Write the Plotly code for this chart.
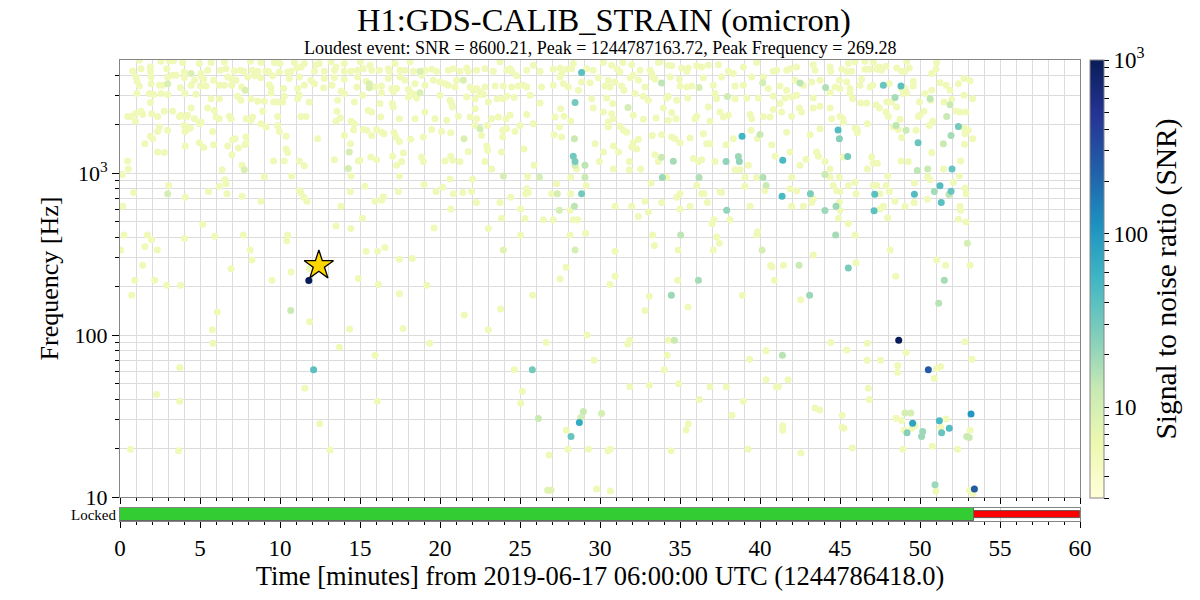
import numpy as np
import plotly.graph_objects as go

# ---------------- metadata ----------------
channel = "H1:GDS-CALIB_STRAIN"
pipeline = "omicron"
gps_epoch = 1244786418.0
epoch_label = "2019-06-17 06:00:00 UTC"
loudest_snr = 8600.21
loudest_gps = 1244787163.72
loudest_freq = 269.28

# state segments (minutes from epoch)
locked_known = [0.0, 60.0]
locked_active = [0.0, 53.4]

# typical SNR of the faint (pale) triggers, read from the colour
snr_quiet = 5.5

# ---------------- faint triggers: time [min], frequency [Hz] ----------------
time_a = [1.21, 2.56, 3.08, 3.35, 3.92, 4.96, 5.69, 6.52, 8.15, 8.81, 9.65, 10.0, 10.9, 11.52, 12.25, 12.46, 13.19, 14.02, 15.02,
          0.79, 1.31, 1.9, 1.9, 2.92, 3.25, 4.02, 5.06, 5.48, 6.27, 6.63, 7.15, 7.52, 7.73, 8.25, 8.6, 9.13, 9.27, 9.96, 10.48, 10.69, 11.06, 11.31, 12.15, 12.77, 13.5, 13.4, 14.02, 14.44, 14.85,
          1.0, 1.06, 1.94, 2.98, 3.5, 4.02, 4.65, 5.1, 5.23, 5.85, 6.73, 6.94, 7.25, 7.98, 8.44, 8.81, 9.54, 10.58, 11.21, 11.94, 12.77, 13.4, 14.02, 14.85,
          1.21, 1.94, 2.46, 2.67, 3.77, 4.44, 5.02, 5.38, 6.21, 6.52, 6.98, 7.6, 9.33, 9.44, 10.23, 11.1, 11.52, 12.15, 12.73, 13.25, 13.81, 14.8,
          1.06, 1.83, 2.1, 2.56, 2.98, 4.06, 4.75, 5.69, 6.21, 7.35, 7.56, 8.19, 8.6, 9.02, 9.44, 9.6, 9.85, 10.17, 10.27, 11.1, 11.21, 11.83, 13.6, 14.02, 14.65, 15.17,
          0.48, 0.65, 0.96, 0.96, 1.31, 1.42, 1.9, 1.98, 2.35, 2.77, 3.29, 3.71, 3.81, 4.13, 4.23, 4.65, 4.44, 4.96, 5.06, 5.48, 5.9, 6.0, 6.21, 6.83, 6.94, 7.88, 8.19, 8.29, 8.92, 8.81, 9.13, 9.85, 9.85, 11.31, 11.63, 13.56, 13.77, 13.5, 14.44, 14.65,
          2.46, 2.35, 2.98, 4.02, 4.23, 4.4, 4.06, 1.9, 2.04, 5.79, 7.04, 7.19, 7.88, 7.81, 10.38, 9.96, 12.35, 14.02, 14.6,
          1.56, 2.35, 2.77, 4.08, 4.96, 5.23, 5.85, 6.73, 7.4, 7.0, 7.88, 10.38, 10.48, 9.6, 10.27, 11.21, 11.52, 13.4, 14.4, 14.9, 0.48, 0.52, 7.63, 6.38,
          0.15, 9.02, 10.73, 14.44, 3.04, 6.56, 6.63, 6.21, 0.85, 4.08, 5.54, 6.69, 7.63, 8.81, 11.21, 11.31, 11.48, 11.69, 13.81, 14.4, 0.17]
freq_a = [4990, 4920, 4940, 4940, 4830, 4750, 4830, 4870, 4920, 4830, 4830, 4750, 4830, 4750, 4680, 4750, 4870, 4750, 4870,
          4280, 4420, 4530, 4260, 4420, 4030, 4220, 4120, 4320, 4320, 4420, 4280, 4320, 4260, 4320, 4260, 4260, 4260, 4220, 4220, 4260, 4470, 4530, 4260, 4260, 4530, 4320, 4260, 4260, 4320,
          3930, 3690, 3930, 3930, 4030, 3880, 3750, 3930, 3800, 3750, 3930, 3840, 3750, 3930, 3990, 3880, 3990, 3840, 3930, 3750, 3840, 3880, 3800, 3930,
          3460, 3570, 3490, 3490, 3370, 3490, 3460, 3450, 3490, 3490, 3490, 3410, 3520, 3370, 3330, 3330, 3490, 3570, 3370, 3490, 3220, 3410,
          3100, 3100, 3060, 3100, 3060, 3100, 3070, 2880, 2880, 2990, 2820, 2880, 2780, 2780, 3130, 2750, 2750, 2750, 2990, 2880, 3030, 2750, 2820, 3100, 2750, 3030,
          2240, 2240, 2330, 2090, 2410, 2300, 2730, 2330, 2240, 2410, 2410, 2240, 2280, 2220, 2280, 2170, 2530, 2020, 2070, 2530, 2440, 2220, 2170, 2250, 2170, 2170, 2120, 2220, 2410, 2020, 1930, 2240, 1970, 2240, 2240, 2410, 2190, 2090, 2090, 2020,
          1930, 1810, 1840, 1970, 1880, 1900, 1810, 1690, 1630, 1810, 1610, 1630, 1670, 1500, 1690, 1810, 1630, 1710, 1850,
          1520, 1350, 1340, 1470, 1540, 1440, 1500, 1470, 1430, 1300, 1520, 1410, 1340, 1190, 1190, 1190, 1110, 1210, 1520, 1190, 1190, 1060, 1120, 1050,
          980, 950, 960, 960, 840, 910, 860, 830, 760, 710, 770, 745, 720, 670, 780, 760, 710, 670, 625, 770, 625]

time_b = [15.21, 15.63, 15.73, 16.21, 16.77, 16.83, 17.19, 17.5, 17.81, 18.13, 18.33, 19.06, 19.48, 19.79, 20.52, 20.83, 21.25, 21.67, 21.77, 22.29, 22.81, 23.33, 23.75, 24.17, 24.38, 24.48, 24.79, 25.42, 25.83, 26.25, 27.08, 27.5, 27.6, 27.92, 28.23, 28.33, 29.17, 29.58,
          15.38, 15.94, 16.35, 16.77, 16.98, 17.29, 17.5, 17.81, 18.02, 18.13, 18.44, 18.85, 19.06, 19.58, 20.0, 20.31, 20.52, 20.94, 21.04, 21.88, 22.08, 22.29, 22.5, 22.81, 23.44, 23.96, 24.48, 24.9, 25.21, 25.42, 26.35, 27.08, 27.5, 27.71, 28.02, 28.65, 28.85, 29.38, 29.9,
          16.35, 17.08, 18.02, 18.38, 18.54, 20.0, 20.63, 21.67, 22.19, 22.5, 22.71, 23.02, 23.58, 23.96, 24.17, 24.63, 25.63, 26.25, 29.48,
          15.52, 15.73, 16.25, 16.29, 17.02, 17.08, 17.46, 18.44, 19.06, 19.69, 20.42, 20.73, 20.79, 21.15, 21.88, 22.19, 22.29, 23.23, 23.65, 24.13, 24.38, 25.42, 27.19, 27.54, 27.75, 28.17, 29.58,
          15.21, 15.42, 15.73, 16.04, 16.35, 16.5, 17.13, 17.25, 17.46, 18.17, 18.96, 19.48, 20.1, 20.67, 22.19, 22.6, 22.96, 23.92, 23.92, 24.17, 24.69, 25.0, 25.83, 27.13, 27.46, 27.6, 29.69,
          15.0, 15.67, 16.04, 17.04, 17.29, 17.6, 17.71, 18.85, 18.96, 20.31, 20.67, 20.79, 21.25, 21.77, 22.81, 22.92, 22.98, 23.23, 23.85, 25.25, 25.88, 28.54, 29.96,
          15.31, 15.94, 16.35, 16.46, 17.4, 17.46, 19.0, 19.75, 20.17, 20.63, 20.83, 21.42, 21.98, 22.04, 22.27, 23.75, 24.42, 25.04, 25.35, 25.42, 25.52, 26.98, 27.29, 28.17, 28.17, 28.13, 29.13, 20.67, 25.48]
freq_b = [4420, 4640, 4320, 4320, 4420, 4260, 4750, 4320, 4320, 4870, 4260, 4320, 4380, 4260, 4320, 4420, 4260, 4470, 4260, 4320, 4420, 4260, 4870, 4320, 4420, 4260, 3990, 4320, 4640, 4260, 4380, 4470, 4120, 4380, 4420, 4750, 4420, 4320,
          3690, 3410, 3460, 3840, 3330, 3330, 3930, 3750, 3300, 3180, 3570, 4030, 3490, 3750, 3660, 3570, 3490, 3410, 3750, 3410, 3250, 3330, 3180, 3410, 3460, 3460, 3410, 3460, 3490, 3410, 3410, 3490, 3930, 3570, 3410, 3250, 3660, 3620, 3880,
          3140, 3180, 2950, 3060, 2910, 3030, 2820, 2950, 2880, 3060, 3060, 2750, 2880, 2880, 2990, 2930, 3030, 2710, 2880,
          2440, 2390, 2690, 2220, 2690, 2560, 2170, 2170, 2390, 2170, 2120, 2690, 2560, 2250, 2220, 2500, 2170, 2170, 2220, 2170, 2280, 2300, 2220, 2500, 2250, 2100, 2530,
          1860, 1840, 1710, 1860, 1790, 1750, 1780, 1670, 1570, 1620, 1670, 1860, 1810, 1780, 1970, 1710, 1970, 1840, 1670, 1880, 1810, 1970, 2020, 1730, 1930, 1670, 1520,
          1200, 1260, 1210, 1270, 1120, 1180, 1330, 1260, 1180, 1190, 1270, 1200, 1180, 1360, 1180, 1470, 1380, 1060, 1350, 1410, 1120, 1060, 1180,
          830, 670, 680, 715, 770, 960, 850, 770, 820, 920, 745, 760, 770, 920, 660, 660, 710, 600, 745, 800, 760, 745, 860, 745, 945, 590, 840, 600, 955]

time_c = [30.21, 30.73, 31.42, 31.98, 33.75, 34.27, 33.13, 33.23, 33.65, 34.48, 35.1, 35.42, 35.52, 36.04, 36.35, 36.77, 37.4, 38.02, 38.33, 38.96, 39.79, 40.83, 41.04, 41.67, 41.88, 42.29, 43.33, 43.44, 44.38, 44.42, 45.1, 31.08, 31.25, 32.5, 32.08,
          30.52, 30.94, 30.31, 30.63, 31.35, 31.5, 31.88, 32.4, 32.81, 33.29, 33.44, 34.38, 34.96, 35.0, 35.42, 35.73, 36.46, 37.08, 37.6, 38.44, 38.96, 39.48, 40.21, 40.52, 41.25, 41.67, 42.19, 42.71, 43.23, 43.75, 44.69, 44.96, 45.42,
          30.42, 30.79, 32.19, 32.71, 33.02, 34.17, 34.27, 34.79, 35.48, 37.19, 37.29, 38.44, 39.17, 39.9, 40.83, 41.56, 41.98, 42.29, 43.33, 44.38,
          30.21, 30.73, 30.83, 30.52, 32.08, 32.71, 33.5, 33.96, 34.48, 34.27, 34.75, 36.04, 35.94, 36.77, 36.88, 37.5, 37.71, 38.02, 39.38, 39.48, 40.21, 40.63, 40.83, 41.25, 41.35, 41.98, 42.46, 42.6, 43.33, 43.75, 44.38, 44.48, 30.52, 31.25,
          31.46, 31.67, 32.08, 32.4, 33.27, 33.85, 34.48, 34.69, 35.0, 35.63, 36.46, 36.67, 36.88, 37.88, 38.33, 39.44, 39.83, 40.73, 41.67, 43.13, 43.75,
          30.21, 30.83, 31.15, 31.98, 32.29, 33.44, 33.65, 35.83, 36.15, 36.35, 37.19, 39.27, 38.75, 38.44, 40.94, 41.88, 42.5, 42.88, 43.54, 43.65, 44.06, 44.38, 45.21, 30.83, 31.83, 32.54, 31.83,
          33.19, 34.17, 35.0, 34.79, 36.04, 36.35, 36.5, 36.71, 37.5, 37.6, 39.06, 39.06, 39.79, 40.31, 41.98, 41.88, 42.29, 43.23, 44.38, 44.96, 44.79, 44.58, 30.94, 31.98, 32.81, 33.85, 35.63, 35.0, 39.38, 41.98, 42.71, 43.33, 44.96, 33.02]
freq_c = [4830, 4640, 4830, 4680, 4870, 4640, 4320, 4120, 4830, 4600, 4470, 4260, 4470, 4600, 4530, 4640, 4680, 4260, 4120, 4530, 4830, 4260, 4320, 4320, 4420, 4530, 4680, 4320, 4530, 4260, 4380, 4380, 4220, 4320, 4030,
          3750, 3660, 3460, 3410, 3460, 3250, 3880, 3750, 3410, 3930, 3800, 3930, 3800, 3460, 3410, 3460, 3880, 3490, 3930, 3460, 3490, 3930, 3930, 3330, 3460, 3250, 3750, 3490, 3660, 3750, 3410, 3750, 3660,
          2910, 2690, 3100, 2990, 2820, 2910, 2990, 2820, 2910, 3100, 2880, 2880, 2910, 2910, 2990, 2910, 2950, 3030, 2910, 3140,
          2390, 2330, 2170, 2070, 2280, 2150, 2190, 2530, 2370, 2120, 2170, 2250, 2170, 2560, 2090, 2390, 2220, 2280, 2300, 2170, 2240, 2220, 2470, 2690, 2390, 2250, 2530, 2390, 2530, 2590, 2530, 2170, 1930, 1950,
          1840, 1790, 1540, 1620, 1710, 1730, 1670, 1630, 1540, 1650, 1750, 1520, 1520, 1500, 1630, 1840, 1640, 1500, 1790, 1730, 1880,
          1350, 1470, 1350, 1450, 1410, 1300, 1180, 1230, 1180, 1210, 1180, 1120, 1050, 1050, 1270, 1350, 1120, 1220, 1350, 1270, 1180, 1060, 1260, 1060, 1050, 1060, 1180,
          870, 940, 745, 710, 840, 745, 745, 660, 770, 760, 945, 830, 940, 780, 945, 800, 780, 660, 945, 945, 780, 840, 625, 625, 670, 660, 625, 600, 625, 625, 625, 690, 660, 575]

time_d = [45.52, 45.94, 46.56, 47.08, 49.17, 51.04, 45.42, 45.73, 46.56, 46.83, 47.29, 47.46, 47.6, 47.88, 48.54, 48.85, 49.06, 49.33, 50.73, 51.0,
          46.35, 46.25, 46.88, 47.04, 48.08, 48.85, 49.06, 49.58, 49.58, 50.31, 50.73, 51.25, 51.63, 51.88, 52.4, 52.75, 53.13,
          45.0, 45.63, 45.63, 45.79, 46.29, 46.67, 47.25, 47.46, 47.92, 48.23, 48.54, 48.96, 49.17, 49.96, 50.67, 51.5, 51.98, 52.75, 53.29,
          45.0, 45.17, 45.21, 47.88, 48.02, 48.75, 48.33, 49.9, 50.0, 50.25, 50.58, 50.79, 52.25, 52.5, 52.88, 46.71, 45.94, 46.08, 46.08,
          48.65, 48.85, 49.75, 52.75, 53.02, 52.81, 53.29, 52.78,
          50.73, 46.98, 47.08, 47.33, 46.71, 48.81, 49.27, 51.46, 52.54,
          47.98, 47.08, 47.29, 47.88, 45.94, 45.52, 45.0, 46.0, 47.5, 48.08, 49.65, 52.08, 52.46, 52.81, 52.88, 50.48, 50.63, 50.46, 48.44, 49.63, 49.06, 47.5, 47.71, 45.0, 52.5, 52.54]
freq_d = [4750, 4870, 4920, 4830, 4920, 4830, 4260, 4260, 4380, 4380, 4380, 4530, 4320, 4580, 4470, 4260, 4260, 4470, 4120, 4380,
          3800, 3490, 3410, 3490, 3570, 3330, 3330, 3690, 3460, 3100, 3250, 3620, 3490, 3250, 3570, 3840, 3720,
          3330, 3330, 3100, 2880, 2710, 2710, 2650, 2530, 2750, 2750, 2560, 3100, 3140, 2750, 2820, 2750, 2850, 3030, 2880,
          2240, 2170, 2070, 2390, 2240, 2150, 1930, 2240, 2280, 2410, 1970, 2090, 2420, 2390, 2390, 2020, 1900, 1860, 1780,
          1860, 1660, 1840, 1900, 1840, 1750, 1630, 1510,
          1340, 1260, 1150, 1150, 1060, 1190, 1180, 1060, 1190,
          960, 840, 840, 840, 880, 840, 770, 745, 745, 770, 870, 880, 960, 810, 745, 950, 910, 690, 670, 660, 625, 600, 625, 590, 625, 590]

time_low = [0.25, 0.04, 1.71, 1.98, 1.56, 2.33, 1.42, 0.92, 2.17, 2.92, 3.79, 0.73, 4.04, 5.17, 5.92, 6.94, 7.71, 8.13, 8.25, 9.5, 10.69, 10.42, 10.48, 11.83, 13.5, 14.42, 15.15, 15.38, 16.1, 16.56, 14.9, 16.15, 17.46, 17.46, 18.27, 19.17, 19.63, 23.02, 23.85, 25.04, 25.31, 25.79, 26.46, 27.08, 28.33, 28.6, 28.13, 27.88, 27.5, 29.1,
            6.08, 5.77, 5.81, 11.85, 14.35, 17.69, 19.35, 13.71, 15.94, 21.52, 23.79, 23.02, 26.63, 29.19, 29.63, 3.73, 24.65, 2.29, 3.73, 11.56, 16.08, 12.48, 25.15, 25.04, 27.9, 28.0, 29.27, 26.81, 0.65, 3.67, 13.13, 29.79,
            30.94, 30.94, 30.63, 33.08, 33.29, 33.4, 32.4, 34.88, 34.85, 37.0, 37.13, 37.29, 37.46, 37.08, 38.13, 38.9, 39.79, 39.85, 40.67, 40.75, 41.46, 40.9, 43.33, 42.54, 44.9, 45.52, 45.94, 46.0, 47.98, 48.13, 48.48, 52.4, 52.88, 51.04, 51.6, 53.13,
            32.81, 35.5, 31.73, 31.86, 34.27, 34.2, 34.02, 40.38, 39.35, 44.42, 45.42, 46.71, 46.69, 47.54, 49.13, 48.6, 48.6, 51.04, 51.29, 50.9, 52.81, 53.25, 40.38, 41.75, 41.02, 41.15, 34.92, 33.08, 31.86, 36.88, 37.9, 36.21, 38.96, 46.77, 46.83, 43.44, 43.73, 38.25, 45.13, 35.52, 35.38, 41.42, 41.42, 45.13, 45.25, 48.5, 48.85, 49.48, 49.69, 49.0, 51.63, 51.29, 53.13, 50.77, 48.94, 52.35, 45.77, 42.56, 39.25, 34.44, 30.5, 30.63, 30.65, 51.0, 53.1, 53.3]
freq_low = [415, 335, 415, 388, 353, 335, 270, 218, 218, 203, 203, 176, 395, 483, 408, 257, 415, 335, 291, 218, 245, 383, 415, 258, 472, 455, 526, 330, 330, 347, 224, 205, 180, 294, 297, 203, 458, 455, 526, 415, 524, 176, 516, 516, 516, 516, 415, 262, 222, 425,
            139, 108, 89, 121, 109, 110, 89, 84, 75, 133, 145, 108, 90, 100, 70, 63, 61, 43, 39, 47, 39, 28.3, 45, 38, 25.8, 19.7, 19.7, 18.2, 19.7, 19.3, 19.5, 11.2,
            330, 231, 205, 174, 415, 357, 540, 335, 218, 487, 516, 404, 369, 335, 516, 176, 415, 435, 270, 264, 270, 218, 312, 165, 526, 488, 415, 280, 530, 335, 231, 520, 500, 291, 270, 270,
            142, 149, 88, 93, 93, 75, 61, 80, 71, 90, 81, 89, 70, 70, 78, 65, 59, 62, 64, 54, 91, 71, 53, 53, 48, 48, 50, 49, 48, 48, 48, 40, 39, 47, 40, 35.5, 34.4, 32, 32, 28.3, 25.9, 27.5, 25.8, 27, 26.6, 30.7, 29.7, 26.6, 27.5, 25.8, 30.3, 27, 25.8, 20.6, 19.7, 19.7, 20.1, 18.7, 19.7, 19.3, 19.3, 19.7, 10.9, 10.9, 11.0, 10.5]

# ---------------- louder triggers: time [min], frequency [Hz], SNR ----------------
time_loud = [2.98, 7.83, 4.44, 2.98, 14.33, 14.27, 7.77, 15.58, 15.58, 18.75, 18.75, 21.46, 21.5, 22.5, 23.96, 26.21, 27.33, 27.46, 28.4, 28.85,
             28.44, 28.33, 28.44, 28.44, 29.06, 28.85, 29.06, 28.4, 28.44, 23.96, 11.8, 10.67, 12.1, 25.77, 26.15, 28.71, 28.19, 28.96, 28.8, 26.73,
             26.94, 30.1, 33.85, 36.19, 40.17, 42.5, 44.1, 37.96, 31.75, 40.0, 38.88, 44.88, 44.96, 33.85, 34.58, 37.88, 38.65, 38.71, 41.42, 45.48,
             33.9, 36.19, 40.19, 40.38, 41.38, 43.15, 37.92, 44.75, 44.06, 44.06, 47.71, 48.81, 48.44, 50.63, 51.88, 51.67, 48.5, 49.13, 49.88, 51.46,
             51.94, 52.4, 49.83, 50.48, 52.0, 47.17, 49.65, 50.9, 51.25, 51.94, 51.81, 51.33, 47.13, 35.04, 44.73, 40.13, 42.44, 45.52, 36.15, 51.52,
             52.96, 34.65, 41.4, 34.46, 43.1, 51.17, 48.67, 50.52, 53.4, 53.19, 49.54, 51.21, 51.83, 51.35, 49.19, 50.17, 50.1, 50.94, 49.06, 49.42,
             52.92, 53.08]
freq_loud = [3570, 3250, 4120, 745, 1350, 1070, 1050, 3570, 3370, 4260, 3140, 3750, 1630, 1880, 960, 945, 745, 590, 625, 4180,
             2730, 1270, 1180, 1120, 1120, 745, 945, 1630, 335, 335, 217, 142, 61, 61, 30.5, 28.8, 23.6, 33.7, 31, 11.0,
             11.0, 32.8, 3610, 3380, 3620, 3610, 3380, 2980, 2540, 1735, 1690, 1850, 1630, 1256, 1186, 1181, 1268, 1181, 1200, 1268,
             940, 940, 940, 839, 720, 745, 590, 625, 588, 981, 3490, 3460, 2930, 2880, 2650, 2240, 1970, 1840, 1540, 1520,
             1710, 1945, 1040, 1060, 1060, 741, 741, 770, 835, 774, 738, 658, 585, 415, 415, 335, 270, 260, 218, 218,
             369, 93, 75, 176, 176, 157, 93, 61, 11.2, 32.5, 28.5, 29.6, 26.6, 24.9, 24.9, 25.4, 23.6, 11.9, 33, 33,
             23.6, 23.3]
snr_loud = [9, 9, 9, 10, 10, 10, 9, 9, 9, 9, 9, 9, 9, 10, 10, 10, 10, 10, 14, 40,
            30, 30, 28, 10, 14, 30, 12, 12, 10, 8, 1000, 12, 40, 30, 12, 70, 35, 12, 10, 8,
            8, 10, 14, 10, 10, 14, 16, 11, 10, 12, 55, 45, 25, 12, 18, 22, 20, 22, 50, 30,
            20, 16, 16, 12, 50, 28, 22, 20, 20, 12, 35, 40, 18, 14, 12, 12, 14, 12, 35, 12,
            18, 30, 14, 12, 35, 40, 45, 18, 45, 35, 14, 40, 40, 14, 18, 10, 12, 28, 18, 18,
            10, 12, 15, 20, 20, 15, 1000, 250, 250, 100, 80, 50, 45, 35, 25, 20, 20, 20, 10, 10,
            12, 12]

# ---------------- axes / colour definitions ----------------
freq_range = [10, 5000]
time_range = [0, 60]
snr_range = [3, 1000]

YLGNBU = [[0.0, "#ffffd9"], [0.125, "#edf8b1"], [0.25, "#c7e9b4"], [0.375, "#7fcdbb"],
          [0.5, "#41b6c4"], [0.625, "#1d91c0"], [0.75, "#225ea8"], [0.875, "#253494"], [1.0, "#081d58"]]
GRID = "#dcdcdc"
SPINE = "#858585"
FONT = "Liberation Serif"

# ---------------- assemble ----------------
time_quiet = time_a + time_b + time_c + time_d + time_low
freq_quiet = freq_a + freq_b + freq_c + freq_d + freq_low
n = min(len(time_quiet), len(freq_quiet))
time_quiet, freq_quiet = time_quiet[:n], freq_quiet[:n]
m = min(len(time_loud), len(freq_loud), len(snr_loud))
order = np.argsort(np.array(snr_loud[:m]), kind="stable")
tl = np.array(time_loud[:m])[order]
fl = np.array(freq_loud[:m])[order]
sl = np.array(snr_loud[:m], dtype=float)[order]

loud_t = (loudest_gps - gps_epoch) / 60.0

fig = go.Figure()

fig.add_trace(go.Scatter(
    x=time_quiet, y=freq_quiet, mode="markers",
    marker=dict(size=7, color=np.log10(np.full(n, snr_quiet)), coloraxis="coloraxis"),
    hoverinfo="skip", xaxis="x", yaxis="y"))

fig.add_trace(go.Scatter(
    x=tl, y=fl, mode="markers",
    marker=dict(size=7, color=np.log10(sl), coloraxis="coloraxis"),
    customdata=sl, hovertemplate="t=%{x:.2f} min<br>f=%{y:.1f} Hz<br>SNR=%{customdata}<extra></extra>",
    xaxis="x", yaxis="y"))

fig.add_trace(go.Scatter(
    x=[loud_t], y=[loudest_freq], mode="markers",
    marker=dict(symbol="star", size=22, color="#ffd700", line=dict(color="black", width=1.3)),
    hovertemplate="Loudest: SNR=%.2f<extra></extra>" % loudest_snr,
    xaxis="x", yaxis="y"))

# state segments bar
fig.add_trace(go.Bar(
    y=[0], x=[locked_known[1] - locked_known[0]], base=[locked_known[0]], orientation="h", width=0.55,
    marker=dict(color="#ff0000", line=dict(color="#444444", width=0.8)),
    hoverinfo="skip", xaxis="x2", yaxis="y2"))
fig.add_trace(go.Bar(
    y=[0], x=[locked_active[1] - locked_active[0]], base=[locked_active[0]], orientation="h", width=1.0,
    marker=dict(color="#33cc33", line=dict(color="#666666", width=1)),
    hoverinfo="skip", xaxis="x2", yaxis="y2"))

minor_f = [v * d for d in (10, 100, 1000) for v in range(2, 10) if v * d < freq_range[1]]
cb_major = [10, 100, 1000]
cb_minor = [v * d for d in (1, 10, 100) for v in range(2, 10) if snr_range[0] <= v * d < 1000]
cb_vals = [np.log10(v) for v in cb_major + cb_minor]
cb_text = ["10", "100", "10<sup>3</sup>"] + [""] * len(cb_minor)

# the page body adds an 8 px offset, so the figure is 8 px smaller and shifted
OFF = 8
W, H = 1200 - OFF, 600 - OFF
left, right = 120 - OFF, 120
top, bottom = 60 - OFF, 79
plot_h = 461
main_dom = [(521 - 497) / plot_h, 1.0]
seg_dom = [0.0, (521 - 508) / plot_h]

fig.update_layout(
    width=W, height=H,
    margin=dict(l=left, r=right, t=top, b=bottom, autoexpand=False),
    paper_bgcolor="white", plot_bgcolor="white",
    font=dict(family=FONT, color="black", size=22),
    showlegend=False, barmode="overlay", bargap=0,
    title=dict(text=f"{channel} ({pipeline})", x=0.5, xanchor="center",
               y=1 - (20 - OFF) / H, yref="container", yanchor="middle", font=dict(size=32.5)),
    annotations=[dict(
        text=f"Loudest event: SNR = {loudest_snr:.2f}, Peak = {loudest_gps:.2f}, Peak Frequency = {loudest_freq:.2f}",
        x=0.5, xref="paper", y=(521 - 48) / plot_h, yref="paper",
        xanchor="center", yanchor="middle", showarrow=False, font=dict(size=18))],
    xaxis=dict(domain=[0, 1], anchor="y", range=time_range, matches="x2", showticklabels=False,
               tickmode="linear", tick0=0, dtick=5, ticks="outside", ticklen=6, tickcolor="black",
               showgrid=True, gridcolor=GRID, gridwidth=1,
               minor=dict(tick0=0, dtick=1, ticks="outside", ticklen=3, tickcolor="black",
                          showgrid=True, gridcolor=GRID, gridwidth=1),
               showline=True, linecolor=SPINE, linewidth=1, mirror=True, zeroline=False,
               automargin=False),
    yaxis=dict(domain=main_dom, anchor="x", type="log",
               range=[np.log10(freq_range[0]), np.log10(freq_range[1])],
               tickmode="array", tickvals=[10, 100, 1000], ticktext=["10", "100", "10<sup>3</sup>"],
               ticks="outside", ticklen=7, tickcolor="black", tickfont=dict(size=22),
               showgrid=True, gridcolor=GRID, gridwidth=1,
               minor=dict(tickmode="array", tickvals=minor_f, ticks="outside", ticklen=4, tickcolor="black",
                          showgrid=True, gridcolor=GRID, gridwidth=1),
               title=dict(text="Frequency [Hz]", font=dict(size=26), standoff=8),
               showline=True, linecolor=SPINE, linewidth=1, mirror=True, zeroline=False,
               automargin=False),
    xaxis2=dict(domain=[0, 1], anchor="y2", range=time_range,
                tickmode="linear", tick0=0, dtick=5, ticks="outside", ticklen=6, tickcolor="black",
                tickfont=dict(size=23),
                showgrid=True, gridcolor="#cfcfcf", gridwidth=1,
                minor=dict(tick0=0, dtick=1, ticks="outside", ticklen=3, tickcolor="black", showgrid=False),
                title=dict(text=f"Time [minutes] from {epoch_label} ({gps_epoch:.1f})",
                           font=dict(size=26.5), standoff=6),
                showline=True, linecolor=SPINE, linewidth=1, mirror=True, zeroline=False,
                automargin=False),
    yaxis2=dict(domain=seg_dom, anchor="x2", range=[-0.5, 0.5], fixedrange=True,
                tickmode="array", tickvals=[0], ticktext=["Locked"], ticks="",
                tickfont=dict(size=15), showgrid=False,
                showline=True, linecolor=SPINE, linewidth=1, mirror=True, zeroline=False,
                automargin=False),
    coloraxis=dict(colorscale=YLGNBU, cmin=np.log10(snr_range[0]), cmax=np.log10(snr_range[1]),
                   colorbar=dict(thickness=14, thicknessmode="pixels",
                                 len=(498 - 60) / plot_h, lenmode="fraction",
                                 x=(1090 - 120) / 960, xanchor="left", y=1, yanchor="top",
                                 xpad=0, ypad=0,
                                 outlinecolor=SPINE, outlinewidth=1,
                                 tickmode="array", tickvals=cb_vals, ticktext=cb_text,
                                 ticks="outside", ticklen=5, tickcolor="black",
                                 tickfont=dict(size=23),
                                 title=dict(text="Signal to noise ratio (SNR)", side="right",
                                            font=dict(size=29.5)))),
)

fig.write_html("out.html")
